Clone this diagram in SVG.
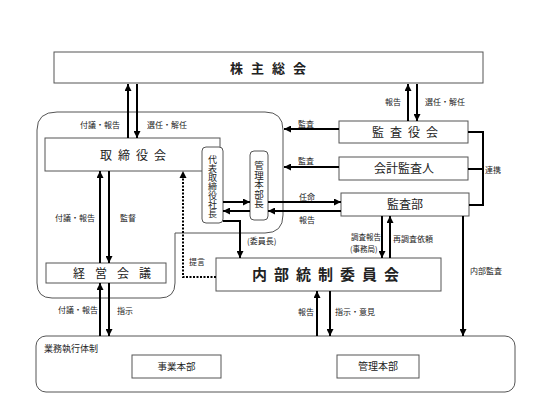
<svg xmlns="http://www.w3.org/2000/svg" width="552" height="414" viewBox="0 0 552 414">
<defs>
<marker id="ah" markerUnits="userSpaceOnUse" markerWidth="7" markerHeight="7" viewBox="0 0 10 10" refX="10" refY="5" orient="auto">
<path d="M0,0 L10,5 L0,10 z" fill="#000"/>
</marker>
<style>
text{font-family:"Noto Sans CJK JP","Noto Sans CJK SC",sans-serif;fill:#222}
.box{fill:#fff;stroke:#555;stroke-width:1}
.cont{fill:none;stroke:#555;stroke-width:1}
.ln{fill:none;stroke:#000;stroke-width:2}
.ar{fill:none;stroke:#000;stroke-width:2;marker-end:url(#ah)}
.dot{fill:none;stroke:#000;stroke-width:2;stroke-dasharray:2 1.5}
.lb{font-size:8px}
.bt{font-size:12px}
.vt{writing-mode:vertical-rl;text-orientation:upright}
</style>
</defs>
<rect width="552" height="414" fill="#fff"/>

<g id="containers">
<path class="cont" d="M57,112 H265 Q283,112 283,130 V215 Q283,233 265,233 H175 V283 Q175,298 160,298 H52 Q37,298 37,283 V130 Q37,112 57,112 Z"/>
</g>

<g id="kabunushi">
<rect class="box" x="54" y="52" width="429" height="31"/>
<text x="230" y="73" font-size="13" font-weight="bold" letter-spacing="8">株主総会</text>
</g>

<g id="torishimariyakukai">
<rect class="box" x="45" y="138" width="175" height="33"/>
<text x="100" y="160" class="bt" letter-spacing="6">取締役会</text>
</g>

<g id="daihyo">
<rect class="box" x="202" y="147" width="21" height="76" rx="4"/>
<text class="vt" x="212.5" y="155" font-size="9">代表取締役社長</text>
</g>

<g id="kanrihonbucho">
<rect class="box" x="250" y="151" width="18" height="69" rx="4"/>
<text class="vt" x="259" y="161" font-size="9.5">管理本部長</text>
</g>

<g id="kansayakukai">
<rect class="box" x="339" y="121" width="129" height="22"/>
<text x="372" y="137" class="bt" letter-spacing="6">監査役会</text>
</g>

<g id="kaikeikansanin">
<rect class="box" x="339" y="157" width="129" height="23"/>
<text x="404" y="173" class="bt" text-anchor="middle">会計監査人</text>
</g>

<g id="kansabu">
<rect class="box" x="341" y="193" width="128" height="23"/>
<text x="405" y="209" class="bt" text-anchor="middle">監査部</text>
</g>

<g id="keieikaigi">
<rect class="box" x="46" y="263" width="120" height="20"/>
<text x="73" y="277.5" class="bt" letter-spacing="10">経営会議</text>
</g>

<g id="naibutosei">
<rect class="box" x="216" y="258" width="225" height="33"/>
<text x="252" y="280" font-size="15" font-weight="bold" letter-spacing="7">内部統制委員会</text>
</g>

<g id="gyomu">
<rect class="cont" x="36" y="336" width="479" height="56" rx="10"/>
<text x="44" y="352" font-size="9">業務執行体制</text>
</g>

<g id="jigyohonbu">
<rect class="box" x="132" y="355" width="89" height="23"/>
<text x="176.5" y="370" font-size="9.5" text-anchor="middle">事業本部</text>
</g>

<g id="kanrihonbu">
<rect class="box" x="337" y="355" width="82" height="23"/>
<text x="378" y="370" font-size="10" text-anchor="middle">管理本部</text>
</g>

<g id="connectors">
<path class="ar" d="M128,138 V84"/>
<path class="ar" d="M137,84 V138"/>
<path class="ar" d="M408,121 V84"/>
<path class="ar" d="M417,84 V121"/>
<path class="ar" d="M339,129 H284"/>
<path class="ar" d="M339,167 H284"/>
<path class="ar" d="M268,202 H341"/>
<path class="ar" d="M341,211 H268"/>
<path class="ar" d="M223,202 H250"/>
<path class="ar" d="M250,211 H223"/>
<path class="ln" d="M468,132 H483 V205 H469"/>
<path class="ln" d="M468,169 H483"/>
<path class="ar" d="M100,263 V171"/>
<path class="ar" d="M109,171 V263"/>
<path class="ar" d="M100,336 V283"/>
<path class="ar" d="M109,283 V336"/>
<path class="ar" d="M223,221 H240 V258"/>
<path class="dot" d="M216,277 H183 V178"/>
<path d="M179.5,178 L183,171 L186.5,178 Z" fill="#000"/>
<path class="ar" d="M382,216 V258"/>
<path class="ar" d="M390,258 V216"/>
<path class="ar" d="M463,216 V336"/>
<path class="ar" d="M317,336 V291"/>
<path class="ar" d="M330,291 V336"/>
</g>

<g id="labels">
<text class="lb" x="80" y="128">付議・報告</text>
<text class="lb" x="147" y="128">選任・解任</text>
<text class="lb" x="385" y="105">報告</text>
<text class="lb" x="425" y="105">選任・解任</text>
<text class="lb" x="298" y="127">監査</text>
<text class="lb" x="298" y="164">監査</text>
<text class="lb" x="299" y="200">任命</text>
<text class="lb" x="299" y="223">報告</text>
<text class="lb" x="485" y="173">連携</text>
<text class="lb" x="55" y="221">付議・報告</text>
<text class="lb" x="120" y="221">監督</text>
<text class="lb" x="247" y="244">(委員長)</text>
<text class="lb" x="189" y="265">提言</text>
<text x="351" y="240" font-size="7.5">調査報告</text>
<text x="350" y="251.5" font-size="7.5">(事務局)</text>
<text class="lb" x="393" y="242">再調査依頼</text>
<text class="lb" x="470" y="274">内部監査</text>
<text class="lb" x="58" y="313">付議・報告</text>
<text class="lb" x="117" y="314">指示</text>
<text class="lb" x="298" y="315">報告</text>
<text class="lb" x="335" y="315">指示・意見</text>
</g>
</svg>
